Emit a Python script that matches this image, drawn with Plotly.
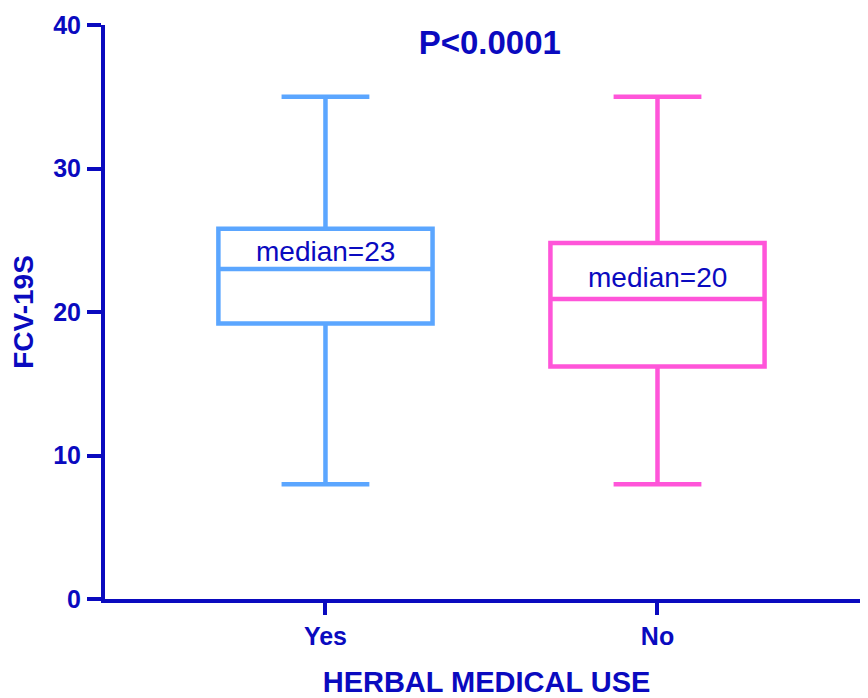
import plotly.graph_objects as go

categories = ["Yes", "No"]
q1_vals = [19.2, 16.2]
median_vals = [23.0, 20.9]
q3_vals = [25.8, 24.8]
lower_vals = [8, 8]
upper_vals = [35, 35]
median_labels = ["median=23", "median=20"]
label_y = [24.2, 22.4]
colors = ["#5ba6ff", "#ff55d9"]

AX = "#0a0abf"
FONT = "Liberation Sans, Arial, sans-serif"

fig = go.Figure()
for i, c in enumerate(categories):
    fig.add_trace(go.Box(
        x=[c], q1=[q1_vals[i]], median=[median_vals[i]], q3=[q3_vals[i]],
        lowerfence=[lower_vals[i]], upperfence=[upper_vals[i]],
        width=0.645, whiskerwidth=0.41,
        line=dict(color=colors[i], width=4.5),
        fillcolor="rgba(0,0,0,0)", boxpoints=False, hoverinfo="skip",
        showlegend=False,
    ))
    fig.add_annotation(x=c, y=label_y[i], text=median_labels[i], showarrow=False,
                       font=dict(family=FONT, size=28, color=AX))

fig.update_layout(
    width=868, height=698,
    margin=dict(l=97, r=8, t=17, b=107, autoexpand=False),
    plot_bgcolor="white", paper_bgcolor="white",
    title=dict(text="<b>P<0.0001</b>", x=0.555, xanchor="center", y=0.951, yanchor="middle",
               font=dict(family=FONT, size=33, color=AX)),
    font=dict(family=FONT, color=AX),
)
fig.update_xaxes(
    type="category", categoryorder="array", categoryarray=categories,
    range=[-0.664, 1.634],
    showline=True, linecolor=AX, linewidth=4,
    ticks="outside", ticklen=12, tickwidth=4, tickcolor=AX,
    tickfont=dict(family=FONT, size=25, color=AX, weight="bold"),
    title=dict(text="<b>HERBAL MEDICAL USE</b>", font=dict(family=FONT, size=29, color=AX), standoff=24),
    showgrid=False, zeroline=False, fixedrange=True,
)
fig.update_yaxes(
    range=[0, 40], tickvals=[0, 10, 20, 30, 40],
    showline=True, linecolor=AX, linewidth=4,
    ticks="outside", ticklen=14, tickwidth=4, tickcolor=AX,
    tickfont=dict(family=FONT, size=25, color=AX, weight="bold"),
    ticklabelstandoff=1,
    title=dict(text="<b>FCV-19S</b>", font=dict(family=FONT, size=28, color=AX), standoff=12),
    showgrid=False, zeroline=False, fixedrange=True,
)
fig.write_html("out.html")
